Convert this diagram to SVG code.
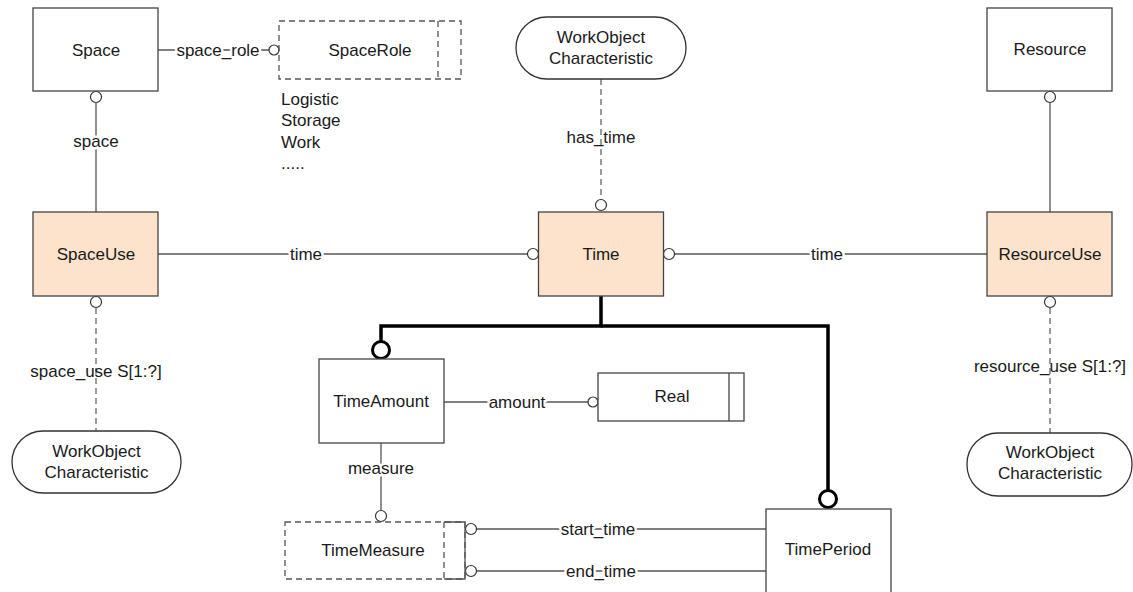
<svg xmlns="http://www.w3.org/2000/svg" width="1133" height="592" viewBox="0 0 1133 592">
  <style>
    text { font-family: "Liberation Sans", Arial, sans-serif; font-size: 17px; fill: #1a1a1a; text-anchor: middle; }
    .lbl { paint-order: stroke; stroke: #ffffff; stroke-width: 5px; stroke-linejoin: round; }
    .plain { text-anchor: start; }
    .box { fill: #ffffff; stroke: #444444; stroke-width: 1.3; }
    .use { fill: #fde3cb; stroke: #444444; stroke-width: 1.3; }
    .dbox { fill: none; stroke: #555555; stroke-width: 1.3; stroke-dasharray: 6 4; }
    .stad { fill: #ffffff; stroke: #333333; stroke-width: 1.3; }
    .line { fill: none; stroke: #555555; stroke-width: 1.3; }
    .dash { fill: none; stroke: #666666; stroke-width: 1.3; stroke-dasharray: 6 4; }
    .thick { fill: none; stroke: #000000; stroke-width: 3.5; }
    .ring { fill: #ffffff; stroke: #333333; stroke-width: 1.2; }
    .bigring { fill: #ffffff; stroke: #000000; stroke-width: 3; }
  </style>

  <!-- connectors -->
  <g id="connectors">
    <!-- Space -> SpaceRole -->
    <line class="line" x1="158" y1="50" x2="269" y2="50"/>
    <circle class="ring" cx="274" cy="50" r="5"/>
    <text class="lbl" x="218" y="56">space_role</text>

    <!-- SpaceUse -> Space -->
    <line class="line" x1="96" y1="103" x2="96" y2="212"/>
    <circle class="ring" cx="96" cy="97" r="5.5"/>
    <text class="lbl" x="96" y="147">space</text>

    <!-- ResourceUse -> Resource -->
    <line class="line" x1="1050" y1="103" x2="1050" y2="212"/>
    <circle class="ring" cx="1050" cy="97" r="5.5"/>

    <!-- WorkObject Characteristic -> Time -->
    <line class="dash" x1="601" y1="79" x2="601" y2="199"/>
    <circle class="ring" cx="601" cy="205" r="5.5"/>
    <text x="601" y="143">has_time</text>

    <!-- SpaceUse -> Time -->
    <line class="line" x1="158" y1="254" x2="527.5" y2="254"/>
    <circle class="ring" cx="533" cy="254" r="5.5"/>
    <text class="lbl" x="306" y="260">time</text>

    <!-- ResourceUse -> Time -->
    <line class="line" x1="674.5" y1="254" x2="987" y2="254"/>
    <circle class="ring" cx="669" cy="254" r="5.5"/>
    <text class="lbl" x="827" y="260">time</text>

    <!-- WorkObject Characteristic -> SpaceUse -->
    <line class="dash" x1="96" y1="308" x2="96" y2="431"/>
    <circle class="ring" cx="96" cy="302" r="5.5"/>
    <text x="96" y="377">space_use S[1:?]</text>

    <!-- WorkObject Characteristic -> ResourceUse -->
    <line class="dash" x1="1050" y1="308" x2="1050" y2="433"/>
    <circle class="ring" cx="1050" cy="302" r="5.5"/>
    <text x="1050" y="372">resource_use S[1:?]</text>

    <!-- Time supertype tree -->
    <path class="thick" d="M601,296 V326 H381 V341.5"/>
    <path class="thick" d="M601,326 H828 V490.5"/>
    <circle class="bigring" cx="381" cy="350" r="8.5"/>
    <circle class="bigring" cx="828" cy="499" r="8.5"/>

    <!-- TimeAmount -> Real -->
    <line class="line" x1="444" y1="402" x2="588" y2="402"/>
    <circle class="ring" cx="593" cy="402" r="5"/>
    <text class="lbl" x="517" y="408">amount</text>

    <!-- TimeAmount -> TimeMeasure -->
    <line class="line" x1="381" y1="443" x2="381" y2="510.5"/>
    <circle class="ring" cx="381" cy="516" r="5.5"/>
    <text class="lbl" x="381" y="474">measure</text>

    <!-- TimePeriod -> TimeMeasure -->
    <line class="line" x1="476.5" y1="529" x2="766" y2="529"/>
    <circle class="ring" cx="471" cy="529" r="5.5"/>
    <text class="lbl" x="598" y="535">start_time</text>
    <line class="line" x1="476.5" y1="571" x2="766" y2="571"/>
    <circle class="ring" cx="471" cy="571" r="5.5"/>
    <text class="lbl" x="601" y="577">end_time</text>
  </g>

  <!-- entities -->
  <g id="space">
    <rect class="box" x="33" y="8" width="125" height="83"/>
    <text x="96" y="56">Space</text>
  </g>

  <g id="space-role">
    <rect class="dbox" x="279" y="21" width="182" height="58"/>
    <line class="dbox" x1="438" y1="21" x2="438" y2="79"/>
    <text x="370" y="56">SpaceRole</text>
    <text class="plain" x="281" y="105">Logistic</text>
    <text class="plain" x="281" y="126">Storage</text>
    <text class="plain" x="281" y="148">Work</text>
    <text class="plain" x="281" y="169">.....</text>
  </g>

  <g id="wo-char-top">
    <rect class="stad" x="516" y="17" width="170" height="62" rx="31" ry="31"/>
    <text x="601" y="43">WorkObject</text>
    <text x="601" y="64">Characteristic</text>
  </g>

  <g id="resource">
    <rect class="box" x="987" y="8" width="125" height="83"/>
    <text x="1050" y="55">Resource</text>
  </g>

  <g id="space-use">
    <rect class="use" x="33" y="212" width="125" height="84"/>
    <text x="96" y="260">SpaceUse</text>
  </g>

  <g id="time">
    <rect class="use" x="538.5" y="212" width="125" height="84"/>
    <text x="601" y="260">Time</text>
  </g>

  <g id="resource-use">
    <rect class="use" x="987" y="212" width="125" height="84"/>
    <text x="1050" y="260">ResourceUse</text>
  </g>

  <g id="time-amount">
    <rect class="box" x="319" y="359" width="125" height="84"/>
    <text x="381" y="407">TimeAmount</text>
  </g>

  <g id="real">
    <rect class="box" x="598" y="373" width="146" height="48"/>
    <line class="box" x1="729" y1="373" x2="729" y2="421"/>
    <text x="672" y="402">Real</text>
  </g>

  <g id="wo-char-left">
    <rect class="stad" x="12" y="431" width="169" height="62" rx="31" ry="31"/>
    <text x="96.5" y="457">WorkObject</text>
    <text x="96.5" y="478">Characteristic</text>
  </g>

  <g id="wo-char-right">
    <rect class="stad" x="967" y="433" width="165" height="63" rx="31" ry="31"/>
    <text x="1050" y="458">WorkObject</text>
    <text x="1050" y="479">Characteristic</text>
  </g>

  <g id="time-measure">
    <rect class="dbox" x="285" y="522" width="180" height="57"/>
    <line class="dbox" x1="444" y1="522" x2="444" y2="579"/>
    <path class="line" d="M444,522 H465 V579 H444"/>
    <text x="373" y="556">TimeMeasure</text>
  </g>

  <g id="time-period">
    <rect class="box" x="766" y="509" width="125" height="84"/>
    <text x="828" y="555">TimePeriod</text>
  </g>
</svg>
